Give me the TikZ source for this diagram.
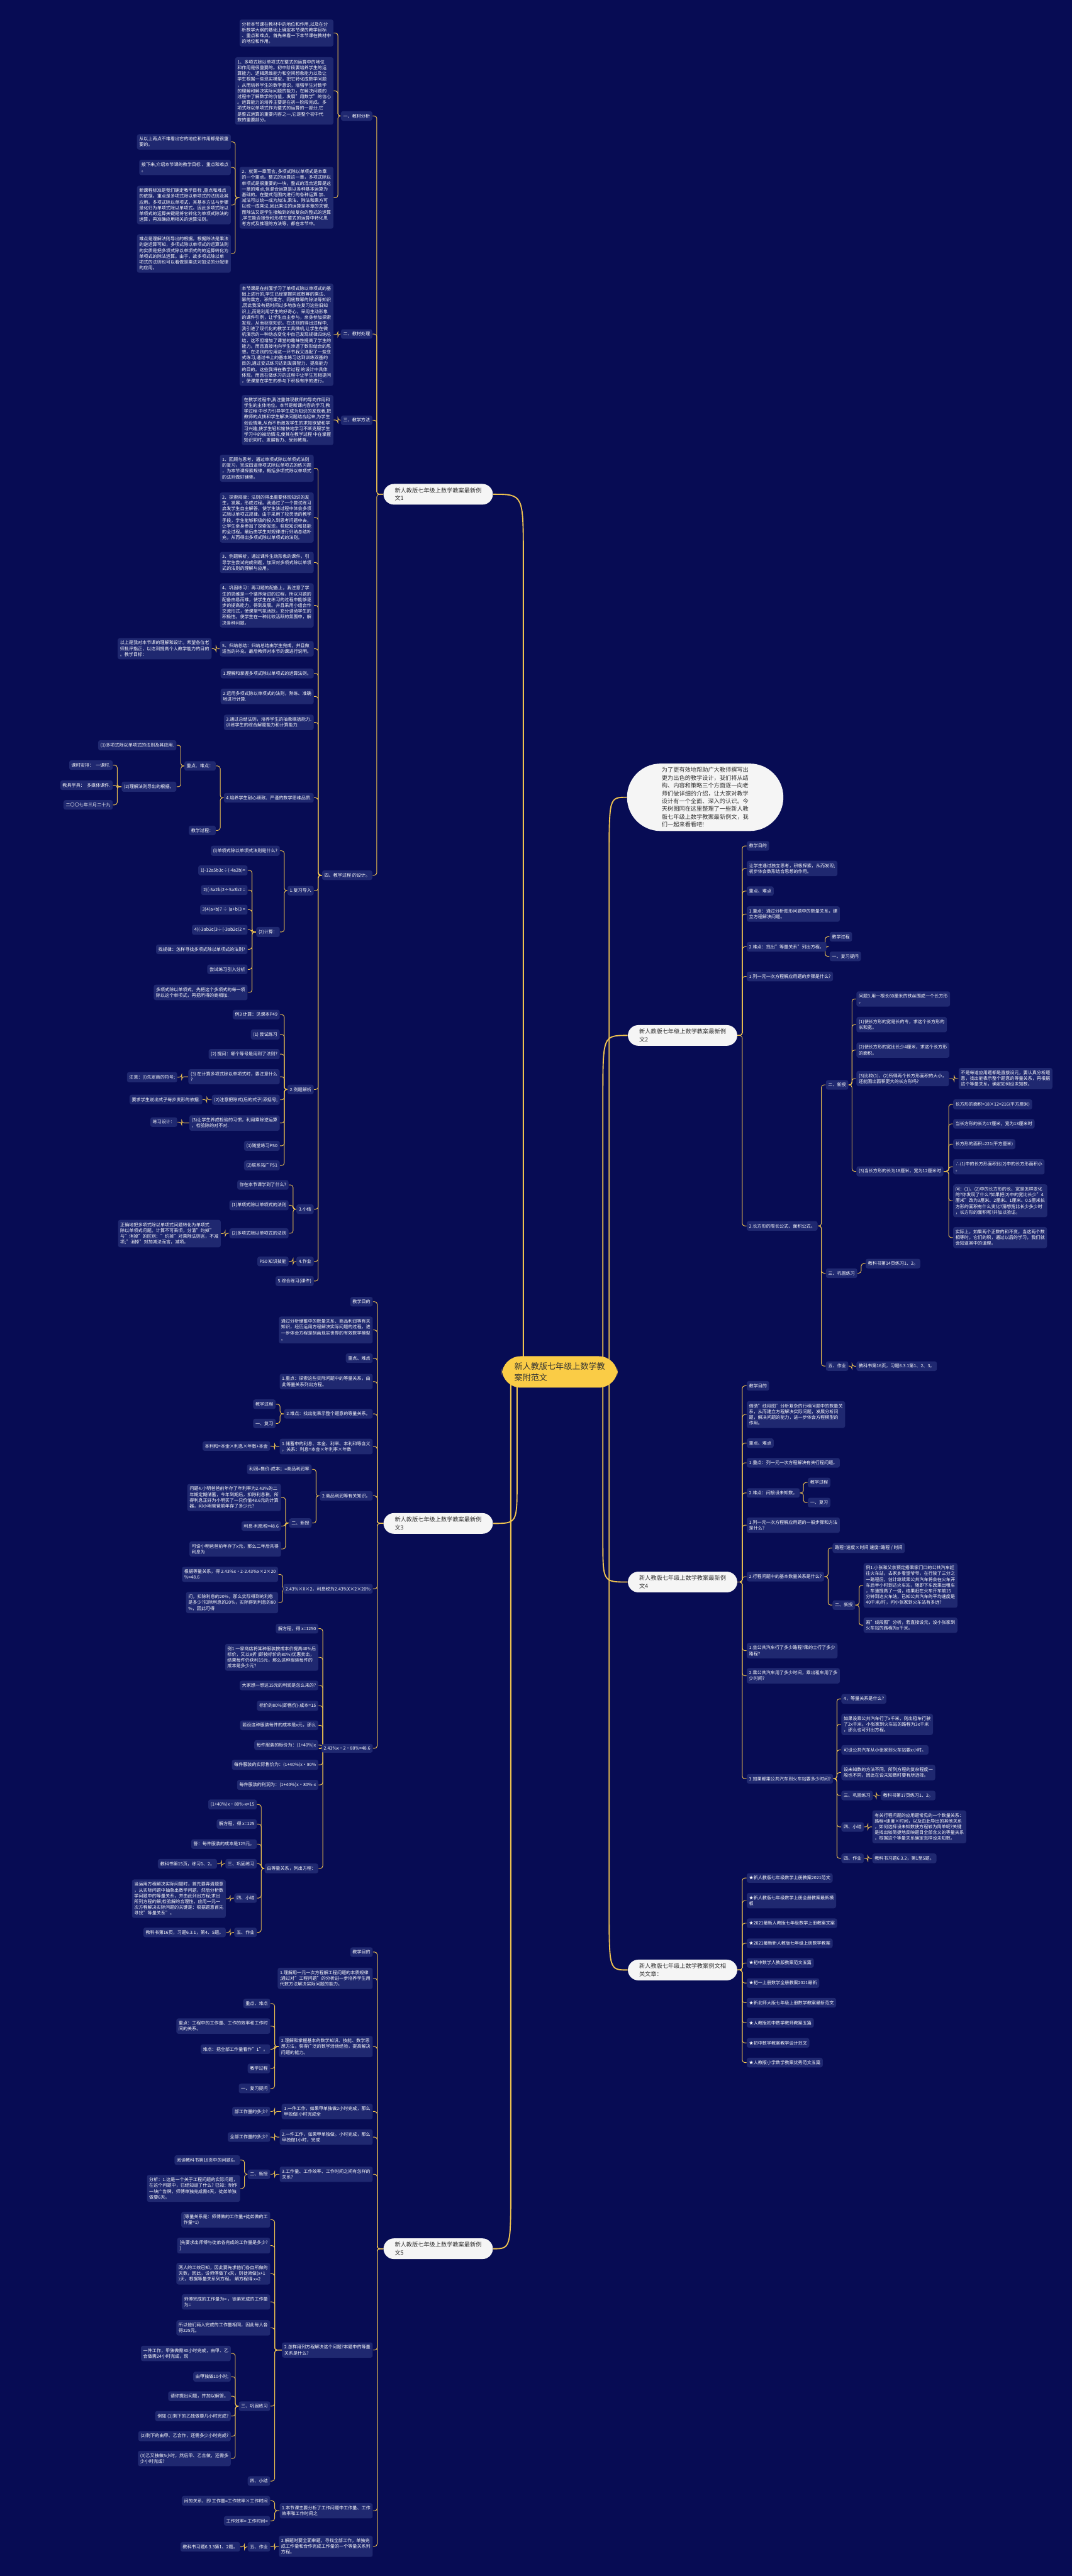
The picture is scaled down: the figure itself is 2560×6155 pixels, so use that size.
\documentclass[tikz,border=0pt]{standalone}
\usepackage{fontspec}
\setmainfont{Noto Sans CJK SC}
\usetikzlibrary{backgrounds}
\definecolor{bg}{RGB}{7,12,84}
\definecolor{boxc}{RGB}{31,40,112}
\definecolor{gold}{RGB}{240,196,80}
\definecolor{ctr}{RGB}{250,204,70}
\definecolor{dk}{RGB}{51,51,51}
\newcommand\fs{\fontsize{3.03pt}{3.93pt}\selectfont}
\newcommand\fm{\fontsize{3.93pt}{5.29pt}\selectfont}
\newcommand\fcen{\fontsize{5.6pt}{7.6pt}\selectfont}
\newcommand\conL[2]{\foreach \kid in {#2}{\draw[conn] (\kid.east) -- ++(10,0) |- (#1.west);}}
\newcommand\conR[2]{\foreach \kid in {#2}{\draw[conn] (\kid.west) -- ++(-10,0) |- (#1.east);}}
\tikzset{
 conn/.style={draw=gold, line width=0.4pt, rounded corners=0.06cm},
 mainc/.style={draw=gold, line width=0.8pt},
 bx/.style={fill=boxc, rounded corners=0.05cm, text=white, font=\fs, inner xsep=0.055cm, inner ysep=0.065cm, align=left},
 L/.style={bx, anchor=north east},
 R/.style={bx, anchor=north west},
 lv/.style={fill=white!96!black, text=dk, font=\fm, rounded corners=0.25cm, inner xsep=0.27cm, inner ysep=0.09cm, align=left},
}
\begin{document}
\begin{tikzpicture}[x=0.01cm, y=-0.01cm]
% ---------- centre ----------
\node[fill=ctr, text=dk, font=\fcen, rounded corners=0.45cm, inner xsep=0.3cm, inner ysep=0.15cm, align=left] (root) at (1337,3278) {新人教版七年级上数学教\\案附范文};
% ---------- intro ----------
\node[lv, anchor=west, inner xsep=0.83cm, rounded corners=0.8cm] (intro) at (1497,1905) {为了更有效地帮助广大教师撰写出\\更为出色的教学设计，我们将从结\\构、内容和策略三个方面逐一向老\\师们做详细的介绍，让大家对教学\\设计有一个全面、深入的认识。今\\天树图网在这里整理了一些新人教\\版七年级上数学教案最新例文，我\\们一起来看看吧!};
% ---------- branch 1 ----------
\node[lv, anchor=east] (b1) at (1178,1181) {新人教版七年级上数学教案最新例\\文1};
\node[L] (n1) at (890,265) {一、教材分析};
\node[L] (a1) at (797,46) {分析本节课在教材中的地位和作用,以及在分\\析数学大纲的基础上确定本节课的教学目标\\、重点和难点。首先来看一下本节课在教材中\\的地位和作用。};
\node[L] (a2) at (797,136) {1、多项式除以单项式在整式的运算中的地位\\和作用是很重要的。初中阶段要培养学生的运\\算能力、逻辑思维能力和空间想象能力以及让\\学生根据一些现实模型，把它转化成数学问题\\，从而培养学生的数学意识，增强学生对数学\\的理解和解决实际问题的能力，在解决问题的\\过程中了解数学的价值，发展"用数学"的信心\\。运算能力的培养主要是在初一阶段完成。多\\项式除以单项式作为整式的运算的一部分,它\\是整式运算的重要内容之一,它是整个初中代\\数的重要部分。};
\node[L] (a3) at (797,398) {2、就第一章而言, 多项式除以单项式是本章\\的一个重点。整式的运算这一章，多项式除以\\单项式是很重要的一块，整式的混合运算是这\\一章的难点,但混合运算是以各种基本运算为\\基础的。在整式范围内进行的各种运算:加、\\减法可以统一成为加法,乘法、除法和乘方可\\以统一成乘法,因此乘法的运算是本章的关键,\\而除法又是学生接触到的较复杂的整式的运算\\,学生能否接受和形成在整式的运算中转化思\\考方式及推理的方法等，都在本节中。};
\node[L] (a3a) at (552,320) {从以上两点不难看出它的地位和作用都是很重\\要的。};
\node[L] (a3b) at (552,381) {接下来,介绍本节课的教学目标 、重点和难点\\。};
\node[L] (a3c) at (552,443) {新课程标准是我们确定教学目标 ,重点和难点\\的依据。重点是多项式除以单项式的法则及其\\应用。多项式除以单项式，其基本方法与步骤\\是化归为单项式除以单项式。因此多项式除以\\单项式的运算关键是将它转化为单项式除法的\\运算，再准确应用相关的运算法则。};
\node[L] (a3d) at (552,559) {难点是理解法则导出的根据。根据除法是乘法\\的逆运算可知，多项式除以单项式的运算法则\\的实质是把多项式除以单项式的的运算转化为\\单项式的除法运算。由于，故多项式除以单\\项式的法则也可以看做是乘法对加法的分配律\\的应用。};
\node[L] (n2) at (890,786) {二、教材处理};
\node[L] (bt) at (797,677) {本节课是在前面学习了单项式除以单项式的基\\础上进行的,学生已经掌握同底数幂的乘法、\\幂的乘方、积的乘方、同底数幂的除法等知识\\,因此我没有把时间过多地放在复习这些旧知\\识上,而是利用学生的好奇心，采用生动形象\\的课件引例，让学生自主参与，亲身参加探索\\发现，从而获取知识。在法则的得出过程中,\\我引进了现代化的教学工具微机,让学生在微\\机演示的一种动态变化中自己发现规律归纳总\\结，这不但增加了课堂的趣味性提高了学生的\\能力。而且直接地向学生渗透了数形结合的思\\想。在法则的应用这一环节我又选配了一些变\\式练习,通过书上的基本练习达到训练双基的\\目的,通过变式练习达到发展智力、提高能力\\的目的。这些我将在教学过程 的设计中具体\\体现。而且在做练习的过程中让学生互相提问\\，使课堂在学生的参与下积极有序的进行。};
\node[L] (n3) at (890,992) {三、教学方法};
\node[L] (ct) at (797,943) {在教学过程中,我注重体现教师的导向作用和\\学生的主体地位。本节是新课内容的学习,教\\学过程 中尽力引导学生成为知识的发现者,把\\教师的点拨和学生解决问题结合起来,为学生\\创设情境,从而不断激发学生的求知欲望和学\\习兴趣,使学生轻松愉快地学习不断克服学生\\学习中的被动情况,使其在教学过程 中在掌握\\知识同时、发展智力、受到教育。};
\node[L] (n4) at (890,2079) {四、教学过程 的设计。};
\node[L] (d1) at (750,1086) {1、回顾与思考，通过单项式除以单项式法则\\的复习，完成四道单项式除以单项式的练习题\\，为本节课探索规律，概括多项式除以单项式\\的法则做好铺垫。};
\node[L] (d2) at (750,1176) {2、探索规律：法则的得出重要体现知识的发\\生，发展，形成过程。我通过了一个尝试练习\\启发学生自主解答，使学生该过程中体会多项\\式除以单项式规律。由于采用了较灵活的教学\\手段，学生能够积极的投入到思考问题中去，\\让学生亲身参加了探索发现，获取知识和技能\\的全过程。最后由学生对规律进行归纳总结补\\充，从而得出多项式除以单项式的法则。};
\node[L] (d3) at (750,1318) {3、例题解析，通过课件生动形象的课件，引\\导学生尝试完成例题，加深对多项式除以单项\\式的法则的理解与应用。};
\node[L] (d4) at (750,1393) {4、巩固练习：再习题的配备上，我注意了学\\生的思维是一个循序渐进的过程，所以习题的\\配备由易而难，使学生在练习的过程中能够逐\\步的提高能力，得到发展。并且采用小组合作\\交流形式，使课堂气氛活跃，充分调动学生的\\积极性。使学生在一种比较活跃的氛围中，解\\决各种问题。};
\node[L] (d5) at (750,1531) {5、归纳总结：归纳总结由学生完成，并且做\\适当的补充。最后教师对本节的课进行说明。};
\node[L] (d5a) at (506,1524) {以上是我对本节课的理解和设计。希望各位老\\师批评指正，以达到提高个人教学能力的目的\\。教学目标：};
\node[L] (d6) at (750,1597) {1.理解和掌握多项式除以单项式的运算法则。};
\node[L] (d7) at (750,1645) {2.运用多项式除以单项式的法则，熟练、准确\\地进行计算.};
\node[L] (d8) at (750,1707) {3.通过总结法则，培养学生的抽象概括能力.\\训练学生的综合解题能力和计算能力.};
\node[L] (d9) at (750,1894) {4.培养学生耐心细致、严谨的数学思维品质.};
\node[L] (e1) at (516,1818) {重点、难点：};
\node[L] (e1a) at (422,1768) {(1)多项式除以单项式的法则及其应用.};
\node[L] (e1b) at (422,1867) {(2)理解法则导出的根据。};
\node[L] (f1) at (270,1816) {课时安排：\ \ 一课时.};
\node[L] (f2) at (270,1864) {教具学具：\ \ 多媒体课件.};
\node[L] (f3) at (270,1911) {二〇〇七年三月二十九};
\node[L] (e2) at (516,1972) {教学过程：};
\node[L] (g1) at (750,2116) {1.复习导入};
\node[L] (g1a) at (669,2020) {(l)单项式除以单项式法则是什么?};
\node[L] (g1b) at (669,2214) {(2)计算：};
\node[L] (h1) at (592,2067) {1)-12a5b3c÷(-4a2b)=};
\node[L] (h2) at (592,2114) {2)(-5a2b)2÷5a3b2 =};
\node[L] (h3) at (592,2161) {3)4(a+b)7 ÷ (a+b)3 =};
\node[L] (h4) at (592,2209) {4)(-3ab2c)3÷(-3ab2c)2 =};
\node[L] (h5) at (592,2256) {找规律：怎样寻找多项式除以单项式的法则?};
\node[L] (h6) at (592,2304) {尝试练习引入分析};
\node[L] (h7) at (592,2352) {多项式除以单项式，先把这个多项式的每一项\\除以这个单项式，再把所得的商相加.};
\node[L] (g2) at (750,2591) {2.例题解析};
\node[L] (i1) at (669,2412) {例3 计算：见课本P49};
\node[L] (i2) at (669,2459) {(1) 尝试练习};
\node[L] (i3) at (669,2506) {(2) 提问：哪个等号是用到了法则?};
\node[L] (i4) at (669,2554) {(3) 在计算多项式除以单项式时，要注意什么\\?};
\node[L] (i4a) at (424,2561) {注意：(l)先定商的符号;};
\node[L] (i5) at (669,2615) {(2)注意把除式(后的式子)添括号;};
\node[L] (i5a) at (484,2615) {要求学生说出式子每步变形的依据.};
\node[L] (i6) at (669,2664) {(3)让学生养成检验的习惯，利用乘除逆运算\\，检验除的对不对.};
\node[L] (i6a) at (424,2669) {练习设计：};
\node[L] (i7) at (669,2725) {(1)随堂练习P50};
\node[L] (i8) at (669,2772) {(2)联系拓广P51};
\node[L] (g3) at (750,2877) {3.小结};
\node[L] (j1) at (690,2819) {你在本节课学到了什么?};
\node[L] (j2) at (690,2867) {(1)单项式除以单项式的法则};
\node[L] (j3) at (690,2934) {(2)多项式除以单项式的法则};
\node[L] (j3a) at (528,2914) {正确地把多项式除以单项式问题转化为单项式\\除以单项式问题。计算不可丢项，分清"约掉"\\与"消掉"的区别："约掉"对乘除法则言，不减\\项;"消掉"对加减法而言，减项。};
\node[L] (g4) at (750,3002) {4.作业};
\node[L] (g4a) at (690,3002) {P50 知识技能};
\node[L] (g5) at (750,3048) {5.综合练习(课件)};
% ---------- branch 3 ----------
\node[lv, anchor=east] (b3) at (1178,3640) {新人教版七年级上数学教案最新例\\文3};
\node[L] (k1) at (891,3098) {教学目的};
\node[L] (k2) at (891,3145) {通过分析储蓄中的数量关系、商品利润等有关\\知识，经历运用方程解决实际问题的过程，进\\一步体会方程是刻画现实世界的有效数学模型\\。};
\node[L] (k3) at (891,3233) {重点、难点};
\node[L] (k4) at (891,3282) {1.重点：探索这些实际问题中的等量关系，由\\此等量关系列出方程。};
\node[L] (k5) at (891,3366) {2.难点：找出能表示整个题意的等量关系。};
\node[L] (k5a) at (659,3343) {教学过程};
\node[L] (k5b) at (659,3389) {一、复习};
\node[L] (k6) at (891,3437) {1.储蓄中的利息、本金、利率、本利和等含义\\，关系：利息=本金×年利率×年数};
\node[L] (k6a) at (646,3443) {本利和=本金×利息×年数+本金};
\node[L] (k7) at (891,3562) {2.商品利润等有关知识。};
\node[L] (k7a) at (745,3498) {利润=售价-成本；=商品利润率};
\node[L] (k7b) at (745,3627) {二、新授};
\node[L] (m1) at (672,3545) {问题4.小明爸爸前年存了年利率为2.43\%的二\\年期定期储蓄，今年到期后，扣除利息税，所\\得利息正好为小明买了一只价值48.6元的计算\\器，问小明爸爸前年存了多少元?};
\node[L] (m2) at (672,3634) {利息-利息税=48.6};
\node[L] (m3) at (672,3682) {可设小明爸爸前年存了x元，那么二年后共得\\利息为};
\node[L] (k8) at (891,3784) {2.43\%×X×2，利息税为2.43\%X×2×20\%};
\node[L] (k8a) at (665,3743) {根据等量关系，得 2.43\%x·2-2.43\%x×2×20\\\%=48.6};
\node[L] (k8b) at (665,3803) {问，扣除利息的20\%，那么实际得到的利息\\是多少?扣除利息的20\%，实际得到利息的80\\\%，因此可得};
\node[L] (k9) at (891,4166) {2.43\%x·2·80\%=48.6};
\node[L] (p1) at (761,3879) {解方程，得 x=1250};
\node[L] (p2) at (761,3927) {例1.一家商店将某种服装按成本价提高40\%后\\标价，又以8折 (即按标价的80\%)优惠卖出，\\结果每件仍获利15元，那么这种服装每件的\\成本是多少元?};
\node[L] (p3) at (761,4015) {大家想一想这15元的利润是怎么来的?};
\node[L] (p4) at (761,4063) {标价的80\%(即售价)-成本=15};
\node[L] (p5) at (761,4110) {若设这种服装每件的成本是x元，那么};
\node[L] (p6) at (761,4157) {每件服装的标价为：(1+40\%)x};
\node[L] (p7) at (761,4204) {每件服装的实际售价为：(1+40\%)x·80\%};
\node[L] (p8) at (761,4252) {每件服装的利润为：(1+40\%)x·80\%-x};
\node[L] (p9) at (761,4452) {由等量关系，列出方程：};
\node[L] (q1) at (614,4299) {(1+40\%)x·80\%-x=15};
\node[L] (q2) at (614,4346) {解方程，得 x=125};
\node[L] (q3) at (614,4394) {答：每件服装的成本是125元。};
\node[L] (q4) at (614,4441) {三、巩固练习};
\node[L] (q4a) at (519,4441) {教科书第15页，练习1、2。};
\node[L] (q5) at (614,4523) {四、小结};
\node[L] (q5a) at (540,4490) {当运用方程解决实际问题时，首先要弄清题意\\，从实际问题中抽象出数学问题，然后分析数\\学问题中的等量关系，并由此列出方程;求出\\所列方程的解;检验解的合理性。应用一元一\\次方程解决实际问题的关键是：根据题意首先\\寻找"等量关系"。};
\node[L] (q6) at (614,4605) {五、作业};
\node[L] (q6a) at (540,4605) {教科书第16页，习题6.3.1，第4、5题。};
% ---------- branch 5 (left bottom) ----------
\node[lv, anchor=east] (b7) at (1178,5373) {新人教版七年级上数学教案最新例\\文5};
\node[L] (r1) at (891,4652) {教学目的};
\node[L] (r2) at (891,4701) {1.理解用一元一次方程解工程问题的本质规律\\;通过对"工程问题"的分析进一步培养学生用\\代数方法解决实际问题的能力。};
\node[L] (r3) at (891,4864) {2.理解和掌握基本的数学知识、技能、数学思\\想方法，获得广泛的数学活动经验，提高解决\\问题的能力。};
\node[L] (r3a) at (646,4775) {重点、难点};
\node[L] (r3b) at (646,4822) {重点：工程中的工作量、工作的效率和工作时\\间的关系。};
\node[L] (r3c) at (646,4884) {难点：把全部工作量看作"1"。};
\node[L] (r3d) at (646,4930) {教学过程};
\node[L] (r3e) at (646,4978) {一、复习提问};
\node[L] (r4) at (891,5026) {1.一件工作，如果甲单独做2小时完成，那么\\甲独做l小时完成全};
\node[L] (r4a) at (646,5033) {部工作量的多少?};
\node[L] (r5) at (891,5087) {2.一件工作，如果甲单独做。小时完成，那么\\甲独做1小时，完成};
\node[L] (r5a) at (646,5094) {全部工作量的多少?};
\node[L] (r6) at (891,5176) {3.工作量、工作效率、工作时间之间有怎样的\\关系?};
\node[L] (r6a) at (646,5183) {二、新授};
\node[L] (r6b) at (574,5149) {阅读教科书第18页中的问题6。};
\node[L] (r6c) at (574,5196) {分析：1.这是一个关于工程问题的实际问题，\\在这个问题中，已经知道了什么? 已知：制作\\一块广告牌，师傅单独完成需4天，徒弟单独\\做要6天。};
\node[L] (r7) at (891,5596) {2.怎样用列方程解决这个问题?本题中的等量\\关系是什么?};
\node[L] (s1) at (646,5284) {[等量关系是：师傅做的工作量+徒弟做的工\\作量=1)};
\node[L] (s2) at (646,5346) {[先要求出师傅与徒弟各完成的工作量是多少?\\]};
\node[L] (s3) at (646,5406) {两人的工效已知，因此要先求他们各自所做的\\天数，因此，设师傅做了x天，则徒弟做(x+1\\)天，根据等量关系列方程。 解方程得 x=2};
\node[L] (s4) at (646,5481) {师傅完成的工作量为= ，徒弟完成的工作量\\为=};
\node[L] (s5) at (646,5543) {所以他们两人完成的工作量相同，因此每人各\\得225元。};
\node[L] (s6) at (646,5737) {三、巩固练习};
\node[L] (t1) at (552,5604) {一件工作，甲独做需30小时完成，由甲、乙\\合做需24小时完成，现};
\node[L] (t2) at (552,5666) {由甲独做10小时;};
\node[L] (t3) at (552,5713) {请你提出问题，并加以解答。};
\node[L] (t4) at (552,5760) {例如 (1)剩下的乙独做要几小时完成?};
\node[L] (t5) at (552,5808) {(2)剩下的由甲、乙合作，还需多少小时完成?};
\node[L] (t6) at (552,5855) {(3)乙又独做5小时，然后甲、乙合做，还需多\\少小时完成?};
\node[L] (s7) at (646,5916) {四、小结};
\node[L] (r8) at (891,5980) {1.本节课主要分析了工作问题中工作量、工作\\效率和工作时间之};
\node[L] (u1) at (646,5963) {间的关系，即 工作量=工作效率×工作时间};
\node[L] (u2) at (646,6011) {工作效率= 工作时间=};
\node[L] (r9) at (891,6058) {2.解题时要全面审题，寻找全部工作，单独完\\成工作量和合作完成工作量的一个等量关系列\\方程。};
\node[L] (r9a) at (646,6073) {五、作业};
\node[L] (r9b) at (574,6073) {教科书习题6.3.3第1、2题。};
% ---------- branch 2 (right) ----------
\node[lv, anchor=west] (b2) at (1499,2474) {新人教版七年级上数学教案最新例\\文2};
\node[R] (v1) at (1783,2009) {教学目的};
\node[R] (v2) at (1783,2056) {让学生通过独立思考，积极探索，从而发现;\\初步体会数形结合思想的作用。};
\node[R] (v3) at (1783,2117) {重点、难点};
\node[R] (v4) at (1783,2165) {1.重点：通过分析图形问题中的数量关系，建\\立方程解决问题。};
\node[R] (v5) at (1783,2250) {2.难点：找出"等量关系"列出方程。};
\node[R] (v5a) at (1981,2226) {教学过程};
\node[R] (v5b) at (1981,2273) {一、复习提问};
\node[R] (v6) at (1783,2321) {1.列一元一次方程解应用题的步骤是什么?};
\node[R] (v7) at (1783,2917) {2.长方形的周长公式、面积公式。};
\node[R] (w1) at (1972,2580) {二、新授};
\node[R] (w1a) at (2045,2368) {问题3.用一根长60厘米的铁丝围成一个长方形\\。};
\node[R] (w1b) at (2045,2429) {(1)使长方形的宽是长的专，求这个长方形的\\长和宽。};
\node[R] (w1c) at (2045,2490) {(2)使长方形的宽比长少4厘米，求这个长方形\\的面积。};
\node[R] (w1d) at (2045,2558) {(3)比较(1)、(2)所得两个长方形面积的大小，\\还能围出面积更大的长方形吗?};
\node[R] (w1d1) at (2289,2551) {不是每道应用题都是直接设元，要认真分析题\\意，找出能表示整个题意的等量关系，再根据\\这个等量关系，确定如何设未知数。};
\node[R] (w1e) at (2045,2786) {(3)当长方形的长为18厘米，宽为12厘米时};
\node[R] (x1) at (2276,2626) {长方形的面积=18×12=216(平方厘米)};
\node[R] (x2) at (2276,2673) {当长方形的长为17厘米，宽为13厘米时};
\node[R] (x3) at (2276,2721) {长方形的面积=221(平方厘米)};
\node[R] (x4) at (2276,2769) {∴(1)中的长方形面积比(2)中的长方形面积小\\。};
\node[R] (x5) at (2276,2829) {问：(1)、(2)中的长方形的长、宽是怎样变化\\的?你发现了什么?如果把(2)中的宽比长少"4\\厘米"改为3厘米、2厘米、1厘米、0.5厘米长\\方形的面积有什么变化?猜想宽比长少多少时\\，长方形的面积呢?并加以验证。};
\node[R] (x6) at (2276,2931) {实际上，如果两个正数的和不变，当这两个数\\相等时，它们的积，通过以后的学习，我们就\\会知道其中的道理。};
\node[R] (w2) at (1972,3030) {三、巩固练习};
\node[R] (w2a) at (2067,3007) {教科书第14页练习1、2。};
\node[R] (w4) at (1972,3252) {五、作业};
\node[R] (w4a) at (2045,3252) {教科书第16页，习题6.3.1第1、2、3。};
% ---------- branch 4 (right) ----------
\node[lv, anchor=west] (b4) at (1499,3780) {新人教版七年级上数学教案最新例\\文4};
\node[R] (y1) at (1783,3299) {教学目的};
\node[R] (y2) at (1783,3347) {借助"线段图"分析复杂的行程问题中的数量关\\系，从而建立方程解决实际问题，发展分析问\\题，解决问题的能力，进一步体会方程模型的\\作用。};
\node[R] (y3) at (1783,3436) {重点、难点};
\node[R] (y4) at (1783,3483) {1.重点：列一元一次方程解决有关行程问题。};
\node[R] (y5) at (1783,3555) {2.难点：间接设未知数。};
\node[R] (y5a) at (1929,3530) {教学过程};
\node[R] (y5b) at (1929,3578) {一、复习};
\node[R] (y6) at (1783,3625) {1.列一元一次方程解应用题的一般步骤和方法\\是什么?};
\node[R] (y7) at (1783,3755) {2.行程问题中的基本数量关系是什么?};
\node[R] (z1) at (1988,3686) {路程=速度×时间 速度=路程 / 时间};
\node[R] (z2) at (1988,3823) {二、新授};
\node[R] (z2a) at (2062,3734) {例1.小张和父亲预定搭乘家门口的公共汽车赶\\往火车站，去家乡看望爷爷，在行驶了三分之\\一路程后，估计继续乘公共汽车将会在火车开\\车后半小时到达火车站，随即下车改乘出租车\\，车速提高了一倍，结果赶在火车开车前15\\分钟到达火车站，已知公共汽车的平均速度是\\40千米/时，问小张家到火车站有多远?};
\node[R] (z2b) at (2062,3864) {画"线段图"分析，若直接设元，设小张家到\\火车站的路程为x千米。};
\node[R] (y8) at (1783,3925) {1.坐公共汽车行了多少路程?乘的士行了多少\\路程?};
\node[R] (y9) at (1783,3985) {2.乘公共汽车用了多少时间，乘出租车用了多\\少时间?};
\node[R] (y10) at (1783,4238) {3.如果都乘公共汽车到火车站要多少时间?};
\node[R] (aa1) at (2009,4047) {4，等量关系是什么?};
\node[R] (aa2) at (2009,4094) {如果设乘公共汽车行了x千米，则出租车行驶\\了2x千米。小张家到火车站的路程为3x千米\\，那么也可列出方程。};
\node[R] (aa3) at (2009,4169) {可设公共汽车从小张家到火车站要x小时。};
\node[R] (aa4) at (2009,4216) {设未知数的方法不同，所列方程的复杂程度一\\般也不同，因此在设未知数时要有所选择。};
\node[R] (aa5) at (2009,4278) {三、巩固练习};
\node[R] (aa5a) at (2103,4278) {教科书第17页练习1、2。};
\node[R] (aa6) at (2009,4353) {四、小结};
\node[R] (aa6a) at (2083,4325) {有关行程问题的应用题常见的一个数量关系：\\路程=速度×时间，以及由此导出的其他关系\\，如何选择设未知数使方程较为简单呢?关键\\是找出较简捷地反映题目全部含义的等量关系\\，根据这个等量关系确定怎样设未知数。};
\node[R] (aa7) at (2009,4428) {四、作业};
\node[R] (aa7a) at (2083,4428) {教科书习题6.3.2，第1至5题。};
% ---------- branch 6 (right) ----------
\node[lv, anchor=west] (b6) at (1499,4707) {新人教版七年级上数学教案例文相\\关文章：};
\node[R] (st1) at (1783,4475) {★新人教版七年级数学上册教案2021范文};
\node[R] (st2) at (1783,4522) {★新人教版七年级数学上册全册教案最新模\\板};
\node[R] (st3) at (1783,4583) {★2021最新人教版七年级数学上册教案文案};
\node[R] (st4) at (1783,4631) {★2021最新新人教版七年级上册数学教案};
\node[R] (st5) at (1783,4678) {★初中数学人教版教案范文五篇};
\node[R] (st6) at (1783,4726) {★初一上册数学全册教案2021最新};
\node[R] (st7) at (1783,4773) {★新北师大版七年级上册数学教案最新范文};
\node[R] (st8) at (1783,4821) {★人教版初中数学教师教案五篇};
\node[R] (st9) at (1783,4869) {★初中数学教案教学设计范文};
\node[R] (st10) at (1783,4916) {★人教版小学数学教案优秀范文五篇};
% ---------- connectors ----------
\begin{scope}[on background layer]
\fill[bg] (0,0) rectangle (2560,6155);
\draw[mainc] (1250,3278) -- (1250,1331) .. controls (1250,1181) .. (b1.east);
\draw[mainc] (1235,3278) -- (1235,3540) .. controls (1235,3640) .. (b3.east);
\draw[mainc] (1220,3278) -- (1220,5223) .. controls (1220,5373) .. (b7.east);
\draw[mainc] (1455,3278) -- (1455,2055) .. controls (1455,1905) .. (intro.west);
\draw[mainc] (1440,3278) -- (1440,2624) .. controls (1440,2474) .. (b2.west);
\draw[mainc] (1440,3278) -- (1440,3680) .. controls (1440,3780) .. (b4.west);
\draw[mainc] (1455,3278) -- (1455,4557) .. controls (1455,4707) .. (b6.west);
\conL{b1}{n1,n2,n3,n4}
\conL{n1}{a1,a2,a3}
\conL{a3}{a3a,a3b,a3c,a3d}
\conL{n2}{bt}
\conL{n3}{ct}
\conL{n4}{d1,d2,d3,d4,d5,d6,d7,d8,d9,g1,g2,g3,g4,g5}
\conL{d5}{d5a}
\conL{d9}{e1,e2}
\conL{e1}{e1a,e1b}
\conL{e1b}{f1,f2,f3}
\conL{g1}{g1a,g1b}
\conL{g1b}{h1,h2,h3,h4,h5,h6,h7}
\conL{g2}{i1,i2,i3,i4,i5,i6,i7,i8}
\conL{i4}{i4a}
\conL{i5}{i5a}
\conL{i6}{i6a}
\conL{g3}{j1,j2,j3}
\conL{j3}{j3a}
\conL{g4}{g4a}
\conL{b3}{k1,k2,k3,k4,k5,k6,k7,k8,k9}
\conL{k5}{k5a,k5b}
\conL{k6}{k6a}
\conL{k7}{k7a,k7b}
\conL{k7b}{m1,m2,m3}
\conL{k8}{k8a,k8b}
\conL{k9}{p1,p2,p3,p4,p5,p6,p7,p8,p9}
\conL{p9}{q1,q2,q3,q4,q5,q6}
\conL{q4}{q4a}
\conL{q5}{q5a}
\conL{q6}{q6a}
\conL{b7}{r1,r2,r3,r4,r5,r6,r7,r8,r9}
\conL{r3}{r3a,r3b,r3c,r3d,r3e}
\conL{r4}{r4a}
\conL{r5}{r5a}
\conL{r6}{r6a}
\conL{r6a}{r6b,r6c}
\conL{r7}{s1,s2,s3,s4,s5,s6,s7}
\conL{s6}{t1,t2,t3,t4,t5,t6}
\conL{r8}{u1,u2}
\conL{r9}{r9a}
\conL{r9a}{r9b}
\conR{b2}{v1,v2,v3,v4,v5,v6,v7}
\conR{v5}{v5a,v5b}
\conR{v7}{w1,w2,w4}
\conR{w1}{w1a,w1b,w1c,w1d,w1e}
\conR{w1d}{w1d1}
\conR{w1e}{x1,x2,x3,x4,x5,x6}
\conR{w2}{w2a}
\conR{w4}{w4a}
\conR{b4}{y1,y2,y3,y4,y5,y6,y7,y8,y9,y10}
\conR{y5}{y5a,y5b}
\conR{y7}{z1,z2}
\conR{z2}{z2a,z2b}
\conR{y10}{aa1,aa2,aa3,aa4,aa5,aa6,aa7}
\conR{aa5}{aa5a}
\conR{aa6}{aa6a}
\conR{aa7}{aa7a}
\conR{b6}{st1,st2,st3,st4,st5,st6,st7,st8,st9,st10}
\end{scope}
\end{tikzpicture}
\end{document}
